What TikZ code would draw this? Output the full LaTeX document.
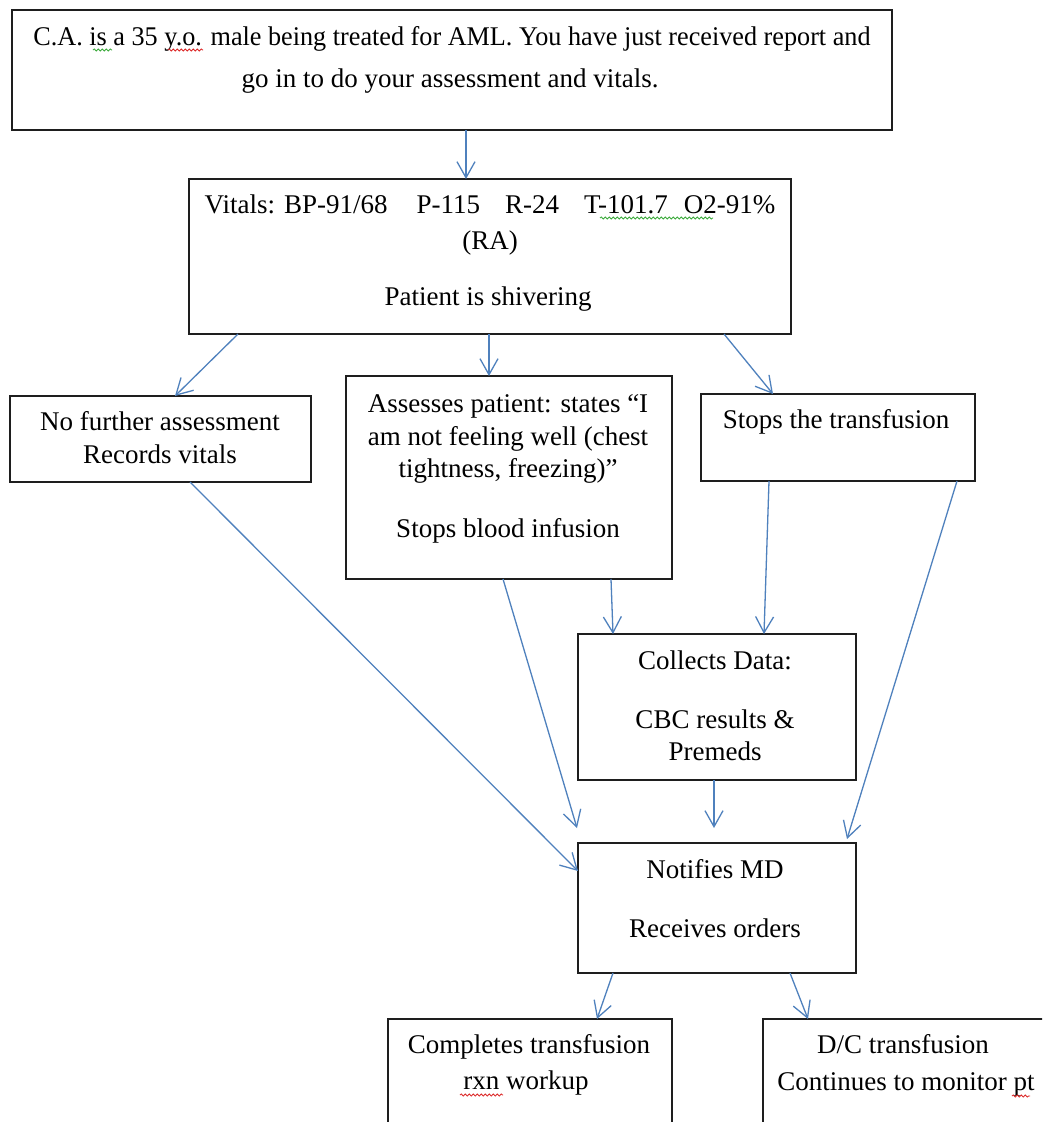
\documentclass[tikz,border=0pt]{standalone}
\usepackage{fontspec}
\setmainfont{Liberation Serif}
\usepackage{graphicx}
\usetikzlibrary{arrows.meta,decorations.pathmorphing,calc}
\definecolor{arrblue}{RGB}{79,129,189}
\definecolor{boxline}{RGB}{30,30,30}
\definecolor{sqgreen}{RGB}{60,170,60}
\definecolor{sqred}{RGB}{220,40,40}
\begin{document}
\begin{tikzpicture}[x=1pt,y=-1pt,
  box/.style={draw=boxline,line width=1.8pt,inner sep=0pt,outer sep=0pt},
  txt/.style={anchor=base,inner sep=0pt,outer sep=0pt,font=\fontsize{27}{32}\selectfont,text=black},
  arr/.style={draw=arrblue,line width=1.3pt,-{Straight Barb[length=16pt,width=18pt,line width=1.3pt]}},
  squig/.style={decorate,decoration={snake,amplitude=1.1pt,segment length=4pt},line width=0.8pt}]
\clip (0,0) rectangle (1042,1122);
\fill[white] (0,0) rectangle (1042,1122);

% boxes
\node[box,minimum width=880pt,minimum height=120pt] (top) at (452,70) {};
\node[box,minimum width=602pt,minimum height=155pt] (vit) at (490,256.5) {};
\node[box,minimum width=301pt,minimum height=86pt] (nofu) at (160.5,439) {};
\node[box,minimum width=326pt,minimum height=203pt] (ass) at (509,477.5) {};
\node[box,minimum width=274pt,minimum height=87pt] (stop) at (838,437.5) {};
\node[box,minimum width=278pt,minimum height=146pt] (coll) at (717,707) {};
\node[box,minimum width=278pt,minimum height=130pt] (notif) at (717,908) {};
\node[box,minimum width=284pt,minimum height=160pt] (comp) at (530,1099) {};
\node[box,minimum width=286pt,minimum height=160pt] (dc) at (906,1099) {};

% texts
\node[txt] (t1a) at (452,45) {\scalebox{0.97}[1]{C.A. is a 35 y.o. male being treated for AML. You have just received report and}};
\node[txt] (t1b) at (450,87) {go in to do your assessment and vitals.};
\node[txt] (t2a) at (490,213) {Vitals: BP-91/68\hspace{29pt}P-115\hspace{25pt}R-24\hspace{25pt}T-101.7\hspace{16pt}O2-91\%};
\node[txt] (t2b) at (490,249) {(RA)};
\node[txt] (t2c) at (488,305) {Patient is shivering};
\node[txt] (t3a) at (160,430) {No further assessment};
\node[txt] (t3b) at (160,463) {Records vitals};
\node[txt] (t4a) at (508,412) {Assesses patient: states “I};
\node[txt] (t4b) at (508,445) {am not feeling well (chest};
\node[txt] (t4c) at (508,477) {tightness, freezing)”};
\node[txt] (t4d) at (508,537) {Stops blood infusion};
\node[txt] (t5a) at (836,428) {Stops the transfusion};
\node[txt] (t6a) at (715,669) {Collects Data:};
\node[txt] (t6b) at (715,728) {CBC results \&};
\node[txt] (t6c) at (715,760) {Premeds};
\node[txt] (t7a) at (715,878) {Notifies MD};
\node[txt] (t7b) at (715,937) {Receives orders};
\node[txt] (t8a) at (529,1053) {Completes transfusion};
\node[txt] (t8b) at (526,1089) {rxn workup};
\node[txt] (t9a) at (903,1053) {D/C transfusion};
\node[txt] (t9b) at (906,1090) {Continues to monitor pt};

% spelling squiggles
\draw[squig,draw=sqgreen] (93,50) -- (112,50);
\draw[squig,draw=sqred] (168,50) -- (203,50);
\draw[squig,draw=sqgreen] (600,218) -- (713,218);
\draw[squig,draw=sqred] (460,1095) -- (503,1095);
\draw[squig,draw=sqred] (1012,1096) -- (1030,1096);

% connectors
\draw[arr] (top.south -| 466,0) -- (vit.north -| 466,0);
\draw[arr] (vit.south -| 238,0) -- (nofu.north -| 175,0);
\draw[arr] (vit.south -| 489,0) -- (ass.north -| 489,0);
\draw[arr] (vit.south -| 724,0) -- (stop.north -| 773,0);
\draw[arr] (nofu.south -| 190,0) -- (notif.west |- 0,871);
\draw[arr] (ass.south -| 503,0) -- ($(notif.north west)+(-1,-15)$);
\draw[arr] (ass.south -| 611,0) -- (coll.north -| 613,0);
\draw[arr] (stop.south -| 769,0) -- (coll.north -| 764,0);
\draw[arr] (stop.south -| 957,0) -- ($(notif.north -| 847,0)+(0,-4)$);
\draw[arr] (coll.south -| 714,0) -- ($(notif.north -| 714,0)+(0,-15)$);
\draw[arr] (notif.south -| 613,0) -- (comp.north -| 597,0);
\draw[arr] (notif.south -| 790,0) -- (dc.north -| 808,0);
\end{tikzpicture}
\end{document}
